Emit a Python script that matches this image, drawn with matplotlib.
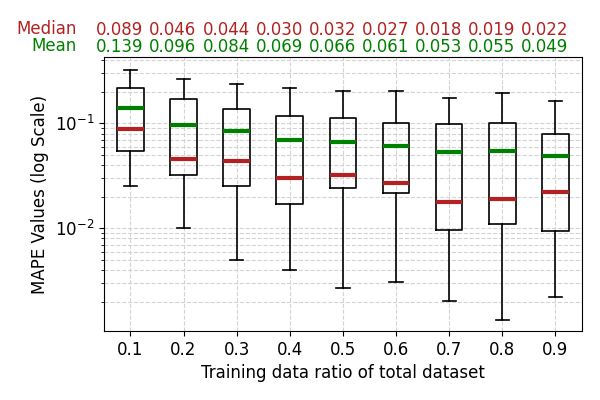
import matplotlib
matplotlib.use("Agg")
import matplotlib.pyplot as plt

ratios = ["0.1", "0.2", "0.3", "0.4", "0.5", "0.6", "0.7", "0.8", "0.9"]
medians = [0.089, 0.046, 0.044, 0.030, 0.032, 0.027, 0.018, 0.019, 0.022]
means = [0.139, 0.096, 0.084, 0.069, 0.066, 0.061, 0.053, 0.055, 0.049]
q1 = [0.055, 0.0326, 0.0255, 0.0171, 0.0243, 0.0219, 0.00963, 0.0109, 0.0094]
q3 = [0.217, 0.170, 0.136, 0.119, 0.112, 0.102, 0.0978, 0.100, 0.080]
whislo = [0.0255, 0.0100, 0.00496, 0.00397, 0.00267, 0.0031, 0.00203, 0.00133, 0.00223]
whishi = [0.325, 0.267, 0.237, 0.217, 0.205, 0.205, 0.174, 0.194, 0.163]

stats = []
for i in range(len(ratios)):
    stats.append(dict(med=medians[i], mean=means[i], q1=q1[i], q3=q3[i],
                      whislo=whislo[i], whishi=whishi[i], fliers=[], label=ratios[i]))

fig = plt.figure(figsize=(6, 4), dpi=100)
ax = fig.add_axes([0.173, 0.1725, 0.797, 0.685])

ax.bxp(stats, positions=range(1, len(ratios) + 1), widths=0.5,
       showmeans=True, meanline=True, showfliers=False,
       boxprops=dict(color="black", linewidth=1.2),
       whiskerprops=dict(color="black", linewidth=1.2),
       capprops=dict(color="black", linewidth=1.2),
       medianprops=dict(color="#b22222", linewidth=3),
       meanprops=dict(color="green", linewidth=3, linestyle="-"))

ax.set_yscale("log")
ax.set_ylim(0.00105, 0.43)
ax.set_xlim(0.5, len(ratios) + 0.5)
ax.grid(True, which="both", linestyle="--", color="lightgray", linewidth=0.8)
ax.set_axisbelow(True)
ax.tick_params(labelsize=12)
ax.set_xlabel("Training data ratio of total dataset", fontsize=12)
ax.set_ylabel("MAPE Values (log Scale)", fontsize=12)

trans = ax.get_xaxis_transform()
for i in range(len(ratios)):
    ax.text(i + 1 - 0.2, 1.10, f"{medians[i]:.3f}", transform=trans, ha="center", va="center",
            color="#b22222", fontsize=12)
    ax.text(i + 1 - 0.2, 1.035, f"{means[i]:.3f}", transform=trans, ha="center", va="center",
            color="green", fontsize=12)
fig.text(77 / 600, 1 - 29 / 400, "Median", ha="right", va="center", color="#b22222", fontsize=12)
fig.text(77 / 600, 1 - 46 / 400, "Mean", ha="right", va="center", color="green", fontsize=12)

fig.savefig("out.png", dpi=100)
